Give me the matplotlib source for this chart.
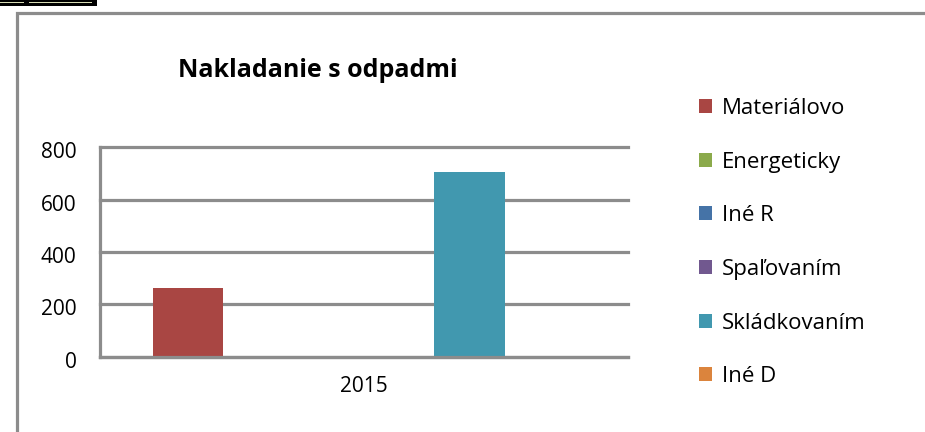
import matplotlib.pyplot as plt
import matplotlib.transforms as mtransforms
from matplotlib.patches import Rectangle, Patch

# data
years = ["2015"]
series = ["Materiálovo", "Energeticky", "Iné R", "Spaľovaním", "Skládkovaním", "Iné D"]
values = [263, 0, 0, 0, 708, 0]
colors = ["#A94643", "#8BAA4B", "#4573A7", "#71588F", "#4198AF", "#DB843D"]
yticks = [0, 200, 400, 600, 800]

plt.rcParams['font.family'] = ['Open Sans', 'DejaVu Sans']

W, H = 925, 432
fig = plt.figure(figsize=(W / 100, H / 100), dpi=100)
fig.patch.set_facecolor('white')

# outer chart frame (grey)
frame = Rectangle((16.5 / W, -0.1), 1.2, (H - 13.5) / H + 0.1, transform=fig.transFigure,
                  fill=False, edgecolor='#8c8c8c', linewidth=2.3, clip_on=False)
fig.patches.append(frame)
# black strip at the very top left (cut-off element)
fig.patches.append(Rectangle((0, (H - 6) / H), 97 / W, 6 / H, transform=fig.transFigure,
                             facecolor='black', edgecolor='none'))
fig.patches.append(Rectangle((0, (H - 2.5) / H), 24 / W, 1 / H, transform=fig.transFigure,
                             facecolor='#d8dcb4', edgecolor='none'))
fig.patches.append(Rectangle((29 / W, (H - 2.5) / H), 63 / W, 1 / H, transform=fig.transFigure,
                             facecolor='#d8dcb4', edgecolor='none'))

ax = fig.add_axes([100 / W, (H - 356.7) / H, (628 - 100) / W, (356.7 - 147.5) / H])

bw = 0.1335
for i, (name, v, c) in enumerate(zip(series, values, colors)):
    ax.bar(0 + (i - 2.5) * bw, v, width=bw, color=c, label=name, zorder=2)

ax.set_xlim(-0.5, 0.5)
ax.set_ylim(0, 800)
ax.set_yticks(yticks)
ax.set_xticks([0])
ax.set_xticklabels(years)
ax.yaxis.grid(True, color='#8c8c8c', linewidth=2.3, zorder=1)
for gl in ax.get_ygridlines():
    gl.set_clip_on(False)
ax.set_axisbelow(True)
for s in ['top', 'right']:
    ax.spines[s].set_visible(False)
ax.spines['left'].set_color('#8c8c8c')
ax.spines['left'].set_linewidth(2.3)
ax.spines['bottom'].set_color('#8c8c8c')
ax.spines['bottom'].set_linewidth(2.3)
ax.spines['bottom'].set_zorder(3)
ax.tick_params(axis='both', length=0, labelsize=15, colors='black')
ax.tick_params(axis='y', pad=17)
ax.tick_params(axis='x', pad=14)
# y labels sit a little below their gridlines in the reference
shift = mtransforms.ScaledTranslation(0, -3 / 100, fig.dpi_scale_trans)
for t in ax.get_yticklabels():
    t.set_transform(t.get_transform() + shift)

fig.text(318 / W, (H - 77) / H, "Nakladanie s odpadmi", ha='center', va='baseline',
         fontsize=18, fontweight='bold')

handles = [Patch(facecolor=c, edgecolor='none') for c in colors]
fig.legend(handles, series, loc='upper left', bbox_to_anchor=(690 / W, (H - 89) / H),
           frameon=False, fontsize=16, handlelength=0.6, handleheight=0.6,
           handletextpad=0.45, labelspacing=1.47, borderaxespad=0)

fig.savefig('out.png', dpi=100)
